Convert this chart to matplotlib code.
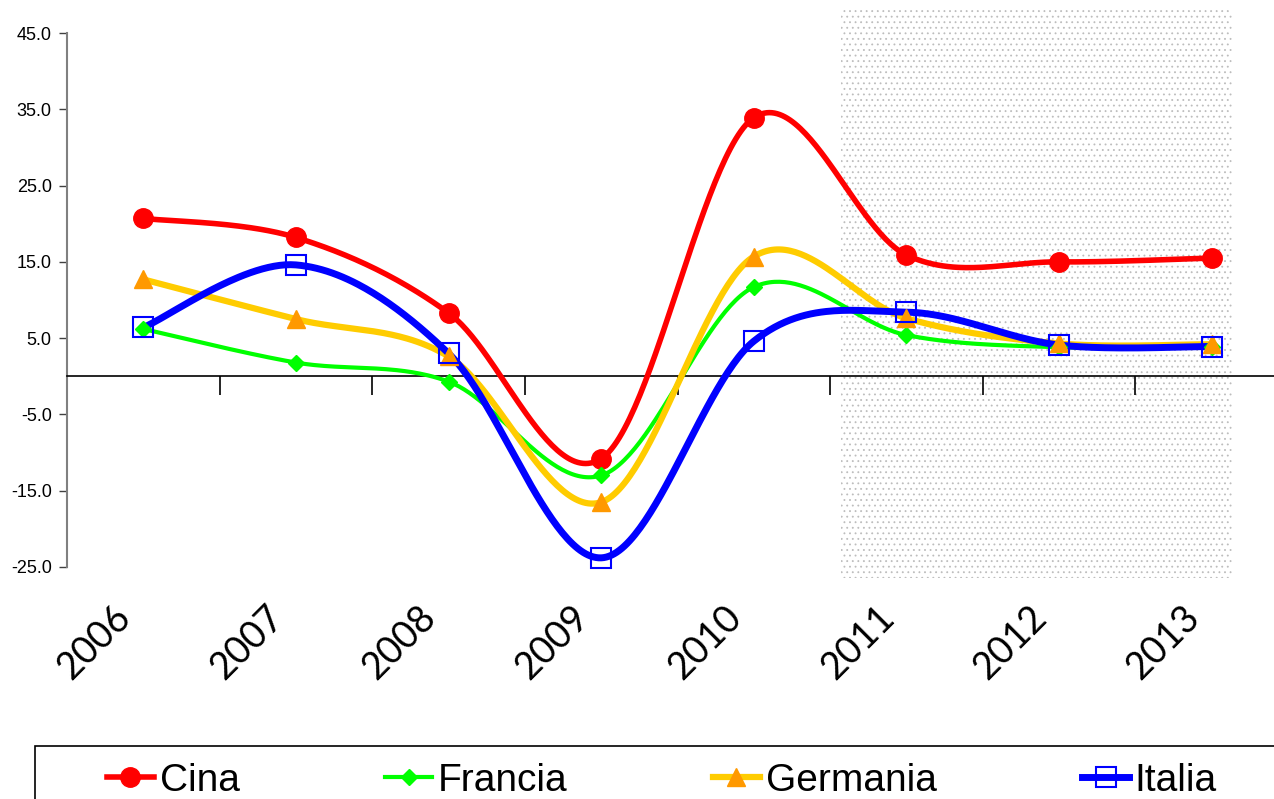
import numpy as np
import matplotlib
matplotlib.use("Agg")
import matplotlib.pyplot as plt
from matplotlib.patches import Rectangle
from matplotlib.transforms import blended_transform_factory

# data
years = ['2006', '2007', '2008', '2009', '2010', '2011', '2012', '2013']
cina = [20.7, 18.2, 8.3, -10.8, 33.9, 15.9, 15.0, 15.5]
francia = [6.2, 1.8, -0.7, -13.0, 11.7, 5.4, 3.8, 3.9]
germania = [12.7, 7.5, 2.6, -16.5, 15.7, 7.6, 4.3, 4.2]
italia = [6.4, 14.6, 3.0, -23.8, 4.6, 8.4, 4.1, 3.9]

yticks = [-25, -15, -5, 5, 15, 25, 35, 45]


def smooth(y, n=60):
    # excel-like smoothed line: cubic bezier with catmull-rom style control points
    y = np.asarray(y, dtype=float)
    x = np.arange(len(y), dtype=float)
    pts = np.column_stack([x, y])
    out = []
    for i in range(len(pts) - 1):
        p0 = pts[max(i - 1, 0)]
        p1 = pts[i]
        p2 = pts[i + 1]
        p3 = pts[min(i + 2, len(pts) - 1)]
        c1 = p1 + (p2 - p0) / 6.0
        c2 = p2 - (p3 - p1) / 6.0
        t = np.linspace(0, 1, n)[:, None]
        seg = ((1 - t) ** 3) * p1 + 3 * ((1 - t) ** 2) * t * c1 + 3 * (1 - t) * t ** 2 * c2 + t ** 3 * p2
        out.append(seg if i == 0 else seg[1:])
    seg = np.vstack(out)
    return seg[:, 0], seg[:, 1]


plt.rcParams['font.family'] = ['Liberation Sans', 'DejaVu Sans']
plt.rcParams['hatch.linewidth'] = 0.6

fig = plt.figure(figsize=(12.74, 7.99), dpi=100)
ax = fig.add_axes([67 / 1274, 1 - 567 / 799, 1221 / 1274, 534 / 799])
ax.set_xlim(-0.5, 7.5)
ax.set_ylim(-25, 45)

# forecast area, dotted
shade = Rectangle((4.57, -26.4), 2.56, 74.4, facecolor='none', edgecolor='#bdbdbd',
                  hatch='...', linewidth=0, clip_on=False, zorder=0)
ax.add_patch(shade)

series = [
    ('Cina', cina, '#ff0000', 4, 'o', 14, '#ff0000', '#ff0000', 1),
    ('Francia', francia, '#00ff00', 3, 'D', 8, '#00ff00', '#00ff00', 1),
    ('Germania', germania, '#ffcc00', 4.5, '^', 13, '#ff9900', '#ff9900', 1),
    ('Italia', italia, '#0000ff', 5, 's', 14, 'none', '#0000ff', 1.5),
]
handles = []
x = np.arange(len(years))
for name, vals, col, lw, mk, ms, mfc, mec, mew in series:
    sx, sy = smooth(vals)
    ax.plot(sx, sy, color=col, lw=lw, solid_capstyle='round', zorder=3, clip_on=False)
    ax.plot(x, vals, ls='none', marker=mk, ms=ms, mfc=mfc, mec=mec, mew=mew, zorder=4, clip_on=False)
    h, = ax.plot([], [], color=col, lw=lw, marker=mk, ms=ms, mfc=mfc, mec=mec, mew=mew)
    handles.append(h)

# axes look
for s in ['top', 'right']:
    ax.spines[s].set_visible(False)
ax.spines['left'].set_color('#808080')
ax.spines['left'].set_linewidth(1.5)
ax.spines['bottom'].set_position(('data', 0))
ax.spines['bottom'].set_linewidth(1.2)

ax.set_yticks(yticks)
ax.set_yticklabels(['%.1f' % v for v in yticks])
ax.tick_params(axis='y', length=6, width=1, color='#404040', labelsize=13, pad=5)
ax.set_xticks(np.arange(-0.5, 8.0, 1.0))
ax.set_xticklabels([])
ax.tick_params(axis='x', length=14, width=1.2, direction='out', color='black')

trans = blended_transform_factory(ax.transData, ax.transAxes)
for i, yr in enumerate(years):
    ax.text(i - 0.035, -0.06, yr, transform=trans, rotation=45, ha='right', va='top',
            fontsize=27, family=['Lato', 'DejaVu Sans'])

# legend with a frame running off the figure edge
fig.patches.append(Rectangle((35 / 1274, -0.05), 1.0, (799 - 746) / 799 + 0.05,
                             transform=fig.transFigure, fill=False, edgecolor='black', lw=1.2))
fig.legend(handles, [s[0] for s in series], loc='center left',
           bbox_to_anchor=(107 / 1274, 1 - 781 / 799), ncol=4, frameon=False,
           fontsize=28, handlelength=1.2, handletextpad=0.15, columnspacing=3.75,
           borderpad=0, borderaxespad=0)

fig.savefig('out.png', dpi=100)
